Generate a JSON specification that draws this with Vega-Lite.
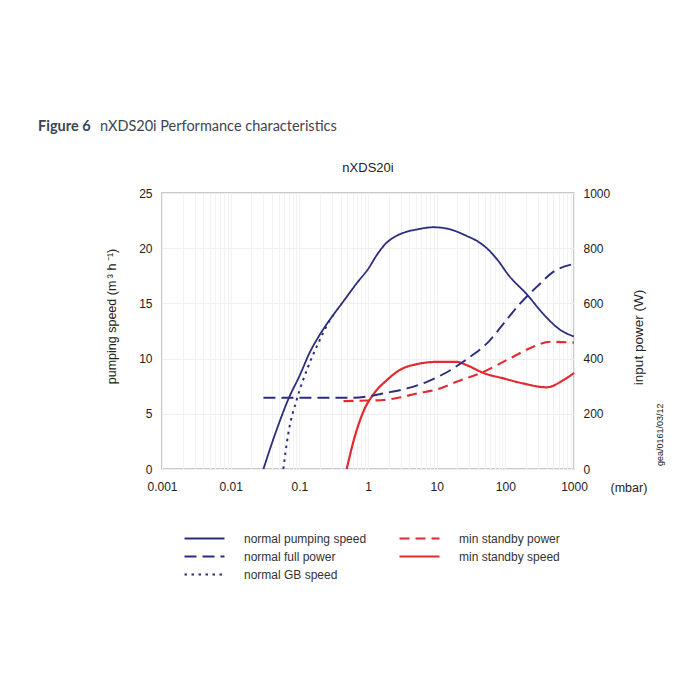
{
  "$schema": "https://vega.github.io/schema/vega-lite/v6.json",
  "width": 412,
  "height": 276,
  "autosize": {"type": "none"},
  "padding": {"left": 162, "top": 193, "right": 126, "bottom": 231},
  "background": "white",
  "config": {
    "font": "Liberation Sans",
    "view": {"stroke": "#b8b8b8", "strokeWidth": 1.5},
    "axis": {
      "labelFont": "Liberation Sans",
      "labelFontSize": 12,
      "labelColor": "#222222",
      "titleFont": "Liberation Sans",
      "titleFontSize": 12.5,
      "titleFontWeight": "normal",
      "titleColor": "#222222",
      "ticks": false,
      "domain": false
    }
  },
  "datasets": {
    "curves": [
      {"s": "normal pumping speed", "p": 0.03, "v": 0},
      {"s": "normal pumping speed", "p": 0.047, "v": 3.6},
      {"s": "normal pumping speed", "p": 0.07, "v": 6.4},
      {"s": "normal pumping speed", "p": 0.1, "v": 8.4},
      {"s": "normal pumping speed", "p": 0.143, "v": 10.6},
      {"s": "normal pumping speed", "p": 0.2, "v": 12.2},
      {"s": "normal pumping speed", "p": 0.316, "v": 14.0},
      {"s": "normal pumping speed", "p": 0.452, "v": 15.3},
      {"s": "normal pumping speed", "p": 0.7, "v": 16.9},
      {"s": "normal pumping speed", "p": 1.0, "v": 18.1},
      {"s": "normal pumping speed", "p": 1.35, "v": 19.4},
      {"s": "normal pumping speed", "p": 1.8, "v": 20.4},
      {"s": "normal pumping speed", "p": 2.4, "v": 21.0},
      {"s": "normal pumping speed", "p": 3.3, "v": 21.4},
      {"s": "normal pumping speed", "p": 5.17, "v": 21.7},
      {"s": "normal pumping speed", "p": 9.04, "v": 21.9},
      {"s": "normal pumping speed", "p": 15.8, "v": 21.7},
      {"s": "normal pumping speed", "p": 27.6, "v": 21.1},
      {"s": "normal pumping speed", "p": 40, "v": 20.6},
      {"s": "normal pumping speed", "p": 58, "v": 19.8},
      {"s": "normal pumping speed", "p": 80, "v": 18.8},
      {"s": "normal pumping speed", "p": 110, "v": 17.6},
      {"s": "normal pumping speed", "p": 207, "v": 15.8},
      {"s": "normal pumping speed", "p": 362, "v": 14.0},
      {"s": "normal pumping speed", "p": 631, "v": 12.6},
      {"s": "normal pumping speed", "p": 1000, "v": 12.0},
      {"s": "normal GB speed", "p": 0.0585, "v": 0},
      {"s": "normal GB speed", "p": 0.069, "v": 3.2},
      {"s": "normal GB speed", "p": 0.0914, "v": 6.25},
      {"s": "normal GB speed", "p": 0.135, "v": 9.3},
      {"s": "normal GB speed", "p": 0.189, "v": 11.4},
      {"s": "normal GB speed", "p": 0.28, "v": 13.5},
      {"s": "normal GB speed", "p": 0.32, "v": 14.05},
      {"s": "min standby speed", "p": 0.49, "v": 0},
      {"s": "min standby speed", "p": 0.62, "v": 2.6},
      {"s": "min standby speed", "p": 0.87, "v": 5.3},
      {"s": "min standby speed", "p": 1.21, "v": 6.8},
      {"s": "min standby speed", "p": 1.88, "v": 8.05},
      {"s": "min standby speed", "p": 2.96, "v": 9.0},
      {"s": "min standby speed", "p": 5.17, "v": 9.5},
      {"s": "min standby speed", "p": 10, "v": 9.7},
      {"s": "min standby speed", "p": 19.6, "v": 9.7},
      {"s": "min standby speed", "p": 27.6, "v": 9.4},
      {"s": "min standby speed", "p": 48, "v": 8.7},
      {"s": "min standby speed", "p": 95, "v": 8.2},
      {"s": "min standby speed", "p": 181, "v": 7.75},
      {"s": "min standby speed", "p": 400, "v": 7.4},
      {"s": "min standby speed", "p": 700, "v": 8.05},
      {"s": "min standby speed", "p": 1000, "v": 8.7},
      {"s": "normal full power", "p": 0.03, "v": 258},
      {"s": "normal full power", "p": 0.55, "v": 258},
      {"s": "normal full power", "p": 1, "v": 263},
      {"s": "normal full power", "p": 1.69, "v": 274},
      {"s": "normal full power", "p": 3.7, "v": 292},
      {"s": "normal full power", "p": 7.2, "v": 316},
      {"s": "normal full power", "p": 15.8, "v": 358},
      {"s": "normal full power", "p": 30.8, "v": 407},
      {"s": "normal full power", "p": 54, "v": 455},
      {"s": "normal full power", "p": 95, "v": 528},
      {"s": "normal full power", "p": 165, "v": 600},
      {"s": "normal full power", "p": 290, "v": 661},
      {"s": "normal full power", "p": 504, "v": 715},
      {"s": "normal full power", "p": 1000, "v": 743},
      {"s": "min standby power", "p": 0.44, "v": 246},
      {"s": "min standby power", "p": 1, "v": 248},
      {"s": "min standby power", "p": 1.69, "v": 250},
      {"s": "min standby power", "p": 3, "v": 260},
      {"s": "min standby power", "p": 5.17, "v": 274},
      {"s": "min standby power", "p": 10, "v": 288},
      {"s": "min standby power", "p": 19.5, "v": 316},
      {"s": "min standby power", "p": 48, "v": 352},
      {"s": "min standby power", "p": 117, "v": 401},
      {"s": "min standby power", "p": 256, "v": 443},
      {"s": "min standby power", "p": 450, "v": 461},
      {"s": "min standby power", "p": 1000, "v": 458}
    ],
    "notes": [
      {"t": "Figure 6", "p": 0.001, "v": 25, "k": "fig"},
      {"t": "nXDS20i Performance characteristics", "p": 0.001, "v": 25, "k": "caption"},
      {"t": "nXDS20i", "p": 1, "v": 25, "k": "head"},
      {"t": "gea/0161/03/12", "p": 1000, "v": 3.1, "k": "ref"}
    ]
  },
  "data": {"name": "curves"},
  "encoding": {
    "x": {
      "field": "p",
      "type": "quantitative",
      "scale": {"type": "log", "domain": [0.001, 1000]},
      "axis": {
        "title": "(mbar)",
        "titleX": 448,
        "titleY": 22,
        "titleAlign": "left",
        "titleBaseline": "alphabetic",
        "labelPadding": 12,
        "labelOverlap": false,
        "labelBound": false,
        "labelFlush": false,
        "gridColor": "#f2f2f2",
        "values": [0.001, 0.002, 0.003, 0.004, 0.005, 0.006, 0.007, 0.008, 0.009,
                   0.01, 0.02, 0.03, 0.04, 0.05, 0.06, 0.07, 0.08, 0.09,
                   0.1, 0.2, 0.3, 0.4, 0.5, 0.6, 0.7, 0.8, 0.9,
                   1, 2, 3, 4, 5, 6, 7, 8, 9,
                   10, 20, 30, 40, 50, 60, 70, 80, 90,
                   100, 200, 300, 400, 500, 600, 700, 800, 900, 1000],
        "labelExpr": "indexof(['0.001','0.01','0.1','1','10','100','1000'], format(datum.value, '~g')) >= 0 ? format(datum.value, '~g') : ''"
      }
    }
  },
  "layer": [
    {
      "transform": [{"filter": {"field": "s", "oneOf": ["normal pumping speed", "normal GB speed", "min standby speed"]}}],
      "mark": {"type": "line", "interpolate": "monotone"},
      "encoding": {
        "y": {
          "field": "v",
          "type": "quantitative",
          "scale": {"domain": [0, 25]},
          "axis": {
            "title": "pumping speed (m\u2009\u00b3 h\u2009\u207b\u00b9)",
            "values": [0, 5, 10, 15, 20, 25],
            "labelPadding": 10,
            "titlePadding": 20,
            "titleY": 123,
            "gridColor": "#eeeeee"
          }
        },
        "color": {
          "field": "s",
          "type": "nominal",
          "scale": {
            "domain": ["normal pumping speed", "normal full power", "normal GB speed", "min standby power", "min standby speed"],
            "range": ["#2b2e7f", "#2b2e7f", "#2b2e7f", "#e42a2f", "#e42a2f"]
          },
          "legend": {
            "title": null,
            "orient": "none",
            "legendX": 21,
            "legendY": 339,
            "columns": 2,
            "columnPadding": 31,
            "rowPadding": 5,
            "clipHeight": 13,
            "padding": 0,
            "symbolType": "stroke",
            "symbolSize": 1600,
            "labelOffset": 18,
            "labelFont": "Liberation Sans",
            "labelFontSize": 12,
            "labelColor": "#333333"
          }
        },
        "strokeDash": {
          "field": "s",
          "type": "nominal",
          "scale": {
            "domain": ["normal pumping speed", "normal full power", "normal GB speed", "min standby power", "min standby speed"],
            "range": [[1, 0], [12, 6], [2.5, 4.5], [10, 6], [1, 0]]
          },
          "legend": null
        },
        "strokeWidth": {
          "field": "s",
          "type": "nominal",
          "scale": {
            "domain": ["normal pumping speed", "normal full power", "normal GB speed", "min standby power", "min standby speed"],
            "range": [1.8, 2.2, 2.2, 2.2, 1.3]
          },
          "legend": null
        }
      }
    },
    {
      "transform": [{"filter": {"field": "s", "oneOf": ["normal full power", "min standby power"]}}],
      "mark": {"type": "line", "interpolate": "monotone"},
      "encoding": {
        "y": {
          "field": "v",
          "type": "quantitative",
          "scale": {"domain": [0, 1000]},
          "axis": {
            "orient": "right",
            "title": "input power (W)",
            "titleFontSize": 13.5,
            "titleAngle": 270,
            "values": [0, 200, 400, 600, 800, 1000],
            "format": "d",
            "labelPadding": 9,
            "titlePadding": 36,
            "titleY": 144,
            "grid": false
          }
        },
        "color": {"field": "s", "type": "nominal"},
        "strokeDash": {"field": "s", "type": "nominal", "legend": null},
        "strokeWidth": {"field": "s", "type": "nominal", "legend": null}
      }
    },
    {
      "data": {"name": "notes"},
      "encoding": {
        "y": {"field": "v", "type": "quantitative", "scale": {"domain": [0, 25]}, "axis": null},
        "text": {"field": "t"}
      },
      "layer": [
        {
          "transform": [{"filter": "datum.k == 'fig'"}],
          "mark": {"type": "text", "font": "Lato", "fontSize": 14.5, "fontWeight": "bold", "color": "#3d4452", "align": "left", "baseline": "alphabetic", "dx": -124, "dy": -62}
        },
        {
          "transform": [{"filter": "datum.k == 'caption'"}],
          "mark": {"type": "text", "font": "Lato", "fontSize": 14.5, "color": "#3d4452", "align": "left", "baseline": "alphabetic", "dx": -62, "dy": -62}
        },
        {
          "transform": [{"filter": "datum.k == 'head'"}],
          "mark": {"type": "text", "fontSize": 13, "color": "#222222", "align": "center", "baseline": "alphabetic", "dy": -21}
        },
        {
          "transform": [{"filter": "datum.k == 'ref'"}],
          "mark": {"type": "text", "fontSize": 9, "color": "#222222", "angle": 270, "align": "center", "baseline": "middle", "dy": 86}
        }
      ]
    }
  ],
  "resolve": {"scale": {"y": "independent"}}
}
